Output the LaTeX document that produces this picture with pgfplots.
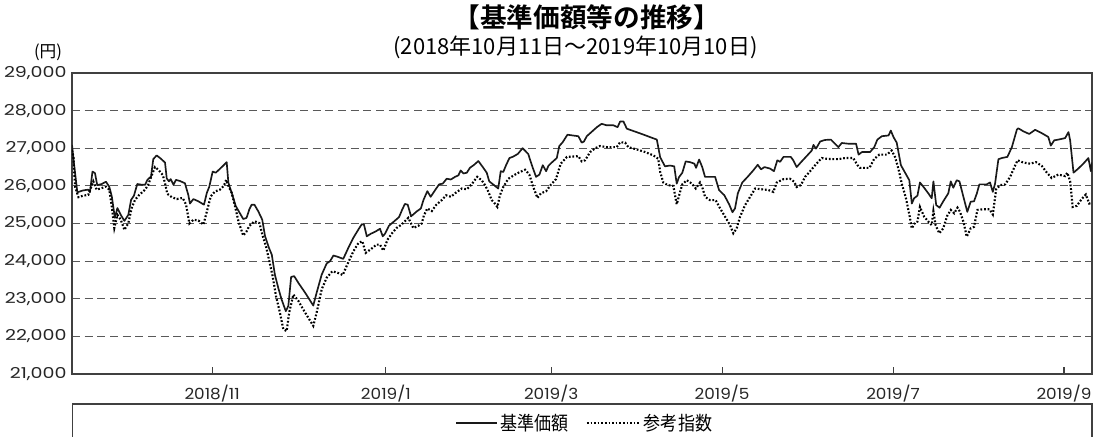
\documentclass[border=0pt]{standalone}
\usepackage{fontspec}
\setmainfont{Noto Sans CJK JP}[FakeStretch=0.88]
\newfontfamily\jpb{Noto Sans CJK JP Bold}
\newfontfamily\jpn{Noto Sans CJK JP}
\newfontfamily\tky{Poppins}[FakeStretch=1.27]
\newfontfamily\tkx{Poppins}[FakeStretch=1.1]
\usepackage{pgfplots}
\pgfplotsset{compat=1.18}
\pgfplotsset{
  legsolid/.style={legend image code/.code={\draw[##1] (0pt,0pt) -- (26pt,0pt); \path (0pt,0pt) -- (30.5pt,0pt);}},
  legdot/.style={legend image code/.code={\draw[##1] (0pt,0pt) -- (24pt,0pt); \path (0pt,0pt) -- (40pt,0pt);}},
}
\begin{document}
\begin{tikzpicture}[x=1pt,y=1pt]
\useasboundingbox (0,0) rectangle (826.5,327);
\begin{axis}[
  at={(54pt,46.5pt)}, anchor=south west,
  scale only axis, width=765pt, height=225.75pt,
  xmin=0, xmax=364, ymin=21000, ymax=29000,
  ytick={21000,22000,...,29000},
  xtick={50,112,171,232,293,354},
  xticklabels={2018/11,2019/1,2019/3,2019/5,2019/7,2019/9},
  scaled y ticks=false,
  /pgf/number format/1000 sep={,},
  /pgf/number format/assume math mode=true,
  tick align=inside, xtick pos=bottom, ytick pos=left,
  major tick length=5.25pt,
  ytick style={draw=none},
  xtick style={draw=black!75, line width=0.8pt},
  axis line style={draw=black!75, line width=0.8pt},
  ymajorgrids,
  grid style={draw=black!65, line width=0.8pt, dash pattern=on 6pt off 3.5pt},
  yticklabel style={font=\tky\fontsize{11.25}{13}\selectfont, text=black!85, xshift=-0.5pt},
  xticklabel style={font=\tkx\fontsize{11.5}{13}\selectfont, text=black!85, yshift=-5pt},
  legend style={at={(0.503,-0.163)}, anchor=center, draw=none, fill=none,
    legend columns=2, font=\fontsize{14.5}{16}\selectfont,
    /tikz/every even column/.append style={column sep=11pt}},
]
\addplot[black!90, line width=1.25pt, line join=round, legsolid] coordinates {
(0,27090)(0.7,26600)(1.9,25830)(4.0,25880)(5.8,25900)(6.4,25830)(7.3,26380)(8.2,26340)
(9.0,26020)(10.6,26050)(12.1,26110)(13.3,25980)(14.2,25720)(15.3,25150)(16.2,25410)
(17.4,25230)(18.7,25070)(20.1,25230)(21.1,25630)(22.1,25740)(23.3,26050)(24.9,26030)
(26.1,26030)(26.9,26160)(28.2,26250)(29.0,26710)(30.2,26810)(31.6,26730)(33.2,26620)
(33.8,26200)(34.6,26120)(35.2,26180)(36.2,26030)(37.1,26160)(38.5,26130)(40.3,26070)
(41.5,25760)(42.1,25530)(43.3,25650)(45.1,25590)(47.1,25500)(48.1,25810)(49.0,25980)
(50.2,26380)(51.3,26350)(52.6,26440)(54.0,26540)(55.2,26630)(55.8,26090)(56.6,25900)
(57.4,25720)(58.4,25470)(59.7,25300)(61.1,25120)(62.3,25150)(63.3,25380)(64.1,25500)
(65.1,25500)(66.5,25320)(67.9,25100)(68.9,24660)(70.3,24350)(71.3,24170)(72.4,23640)
(73.6,23290)(74.8,22980)(76.3,22670)(77.2,22810)(78.2,23580)(79.3,23600)(80.8,23420)
(83.2,23160)(86.1,22820)(87.3,23160)(89.1,23640)(90.9,23940)(92.1,24000)(93.3,24150)
(95.0,24110)(96.8,24060)(98.6,24350)(100.4,24620)(102.2,24840)(103.4,24980)(104.2,24970)
(105.2,24660)(106.7,24730)(108.4,24790)(109.9,24860)(110.9,24660)(111.7,24730)(113.1,24940)
(115.0,25060)(116.7,25170)(117.9,25380)(118.8,25520)(119.8,25500)(121.0,25190)(123.0,25320)
(124.5,25400)(125.4,25620)(126.8,25860)(128.0,25710)(129.6,25890)(131.0,26040)(132.3,26060)
(133.7,26190)(135.2,26170)(136.7,26240)(137.9,26280)(138.7,26410)(139.7,26330)(140.9,26350)
(142.0,26480)(143.5,26560)(145.0,26660)(146.6,26500)(148.0,26350)(148.9,26120)(150.6,26020)
(152.1,25930)(153.0,26390)(153.9,26370)(154.9,26550)(156.1,26740)(157.5,26780)(159.1,26850)
(160.8,27000)(162.8,26850)(164.1,26550)(165.6,26240)(166.8,26300)(168.0,26550)(169.2,26390)
(170.0,26530)(171.2,26620)(173.0,26740)(173.9,27060)(175.1,27160)(176.8,27360)(178.7,27340)
(180.7,27320)(181.9,27150)(182.7,27180)(183.7,27320)(185.5,27440)(187.3,27560)(189.0,27650)
(190.8,27610)(193.2,27610)(194.7,27560)(195.6,27710)(196.8,27710)(198.0,27520)(203.3,27380)
(208.7,27230)(209.9,26760)(211.6,26520)(213.4,26540)(214.9,26520)(215.8,26060)(216.6,26230)
(217.8,26350)(219.0,26650)(220.6,26630)(222.1,26590)(222.7,26480)(223.8,26700)(224.9,26500)
(225.9,26240)(227.7,26240)(229.5,26240)(230.9,25890)(232.8,25750)(234.5,25510)(235.7,25300)
(236.6,25400)(237.6,25800)(239.2,26090)(241.1,26240)(243.1,26410)(244.7,26560)(245.9,26440)
(247.1,26500)(249.1,26460)(250.5,26390)(251.7,26680)(252.7,26640)(253.9,26770)(256.5,26770)
(257.4,26680)(258.6,26500)(260.4,26650)(262.4,26810)(264.0,26940)(264.6,27090)(265.5,26990)
(267.0,27180)(268.7,27220)(270.8,27230)(272.3,27120)(273.5,27030)(274.7,27140)(277.1,27120)
(279.8,27120)(280.7,26830)(281.9,26900)(284.8,26900)(286.3,27030)(287.4,27230)(289.0,27320)
(291.4,27340)(292.2,27470)(293.2,27290)(294.3,27150)(295.8,26550)(297.3,26350)(298.8,26150)
(299.7,25530)(300.5,25670)(301.7,25740)(302.6,26090)(304.1,25950)(305.6,25800)(306.8,25670)
(307.4,26120)(308.4,25490)(309.6,25420)(311.0,25600)(312.7,25800)(313.6,26120)(314.5,25950)
(315.7,26150)(316.7,26120)(318.1,25710)(319.5,25310)(320.7,25580)(321.9,25590)(322.9,25800)
(323.8,26040)(326.4,26040)(327.6,26090)(328.6,25840)(329.4,26060)(330.6,26710)(331.8,26740)
(333.8,26770)(335.4,27030)(337.2,27500)(337.7,27530)(339.5,27450)(341.6,27380)(343.7,27490)
(346.1,27400)(348.4,27300)(349.3,27070)(350.5,27210)(352.0,27230)(354.4,27270)(355.6,27430)
(356.2,27210)(357.4,26350)(359.1,26460)(360.9,26590)(362.7,26740)(363.6,26390)(364,26620)
};
\addlegendentry{基準価額}
\addplot[black, line width=1.6pt, dash pattern=on 1.3pt off 1.4pt, legdot] coordinates {
(0,26950)(0.5,26780)(1.1,25980)(2.3,25700)(4.0,25740)(5.8,25760)(6.7,25940)(7.6,26120)
(8.8,25900)(10.6,25940)(12.1,25980)(13.3,25900)(14.2,25450)(15.1,24880)(16.2,25230)
(17.4,25100)(18.7,24830)(20.1,25010)(21.3,25410)(22.5,25630)(24.0,25760)(26.1,25900)
(27.2,26030)(28.4,26270)(29.6,26500)(30.8,26430)(32.4,26290)(33.2,26070)(34.0,25790)
(35.6,25700)(37.4,25650)(39.5,25680)(40.7,25500)(41.9,25000)(43.3,25100)(45.1,25080)
(46.9,24970)(48.3,25370)(49.5,25720)(51.0,25850)(52.8,25900)(54.2,26000)(55.0,26160)
(55.8,26000)(57.0,25810)(58.2,25450)(59.4,25060)(61.1,24680)(62.3,24790)(63.2,24930)
(65.1,25060)(66.9,25010)(67.9,24710)(69.2,24400)(70.3,24040)(71.6,23600)(72.8,23070)
(74.2,22630)(75.4,22190)(76.6,22140)(77.5,22630)(79.0,23110)(80.8,22940)(83.2,22630)
(86.1,22280)(87.3,22630)(89.1,23250)(90.9,23560)(92.9,23730)(94.8,23690)(96.6,23630)
(98.6,23970)(100.4,24260)(102.2,24480)(103.6,24530)(104.8,24220)(106.7,24320)(108.7,24440)
(109.9,24440)(111.1,24280)(112.6,24570)(114.3,24750)(115.8,24880)(117.6,24970)(120.0,25150)
(121.8,24880)(123.6,24940)(124.8,25000)(125.6,25220)(126.8,25400)(128.4,25330)(129.9,25490)
(131.9,25620)(133.5,25750)(135.2,25710)(137.0,25820)(139.1,25930)(140.9,25910)(142.6,26040)
(144.6,26240)(146.2,26150)(147.4,26020)(148.6,25840)(149.8,25620)(150.6,25560)(151.8,25440)
(152.7,25750)(153.9,25970)(155.7,26190)(158.1,26300)(159.9,26370)(161.7,26430)(163.2,26300)
(164.6,25970)(166.1,25680)(167.3,25800)(169.2,25860)(170.8,26020)(172.7,26180)(174.4,26590)
(176.6,26770)(178.9,26780)(180.7,26790)(181.9,26650)(183.1,26680)(184.9,26900)(186.7,27000)
(188.4,27060)(190.8,27030)(194.4,27030)(195.6,27160)(197.4,27150)(198.5,27030)(201.5,26970)
(204.5,26900)(207.5,26810)(209.2,26720)(209.9,26370)(211.0,26090)(212.6,26020)(214.6,26000)
(215.2,25750)(215.8,25510)(217.0,25840)(217.8,26040)(219.4,26150)(221.2,26060)(222.6,25930)
(224.1,26090)(224.9,25970)(225.9,25710)(227.7,25620)(229.7,25620)(231.3,25400)(233.3,25150)
(234.8,24960)(236.0,24740)(237.2,24870)(238.4,25180)(240.2,25490)(242.0,25710)(243.8,25930)
(246.1,25910)(248.5,25890)(250.3,25840)(251.5,26090)(253.9,26180)(256.2,26190)(257.7,26110)
(258.6,25970)(260.1,26020)(261.6,26240)(263.4,26390)(265.2,26550)(266.4,26650)(267.6,26740)
(269.3,26720)(271.7,26710)(273.5,26710)(275.9,26740)(278.8,26740)(280.3,26550)(281.2,26480)
(284.6,26480)(286.2,26710)(288.1,26830)(290.8,26830)(292.5,26940)(293.7,26770)(294.9,26460)
(296.1,26060)(297.6,25670)(298.8,25240)(299.7,24870)(300.9,25030)(301.7,25050)(302.6,25440)
(304.1,25180)(305.6,25050)(306.8,24960)(307.4,25330)(308.2,24950)(309.5,24740)(310.9,24870)
(312.3,25200)(313.6,25360)(314.8,25270)(316.0,25420)(316.9,25310)(318.1,25050)(319.3,24650)
(320.7,24870)(321.9,24910)(323.1,25360)(325.2,25380)(327.4,25380)(328.6,25240)(329.8,25910)
(331.2,26020)(333.0,26040)(334.8,26240)(336.2,26480)(337.4,26680)(339.5,26620)(341.9,26590)
(344.0,26630)(346.1,26530)(347.9,26350)(349.6,26210)(352.0,26300)(354.4,26260)(355.2,26350)
(356.2,26120)(357.1,25440)(358.6,25470)(360.3,25650)(361.8,25770)(363.0,25530)(364,25550)
};
\addlegendentry{参考指数}
\end{axis}
\draw[black!75, line width=0.8pt] (54.4,-5) -- (54.4,24) -- (819,24) -- (819,-5);
\node[font=\jpb\fontsize{20}{22}\selectfont] at (440,314.25) {【基準価額等の推移】};
\node[font=\jpn\fontsize{16.5}{18}\selectfont] at (431.6,291.75) {(2018年10月11日～2019年10月10日)};
\node[font=\jpn\fontsize{12.5}{14}\selectfont] at (36,288) {(円)};
\end{tikzpicture}
\end{document}
